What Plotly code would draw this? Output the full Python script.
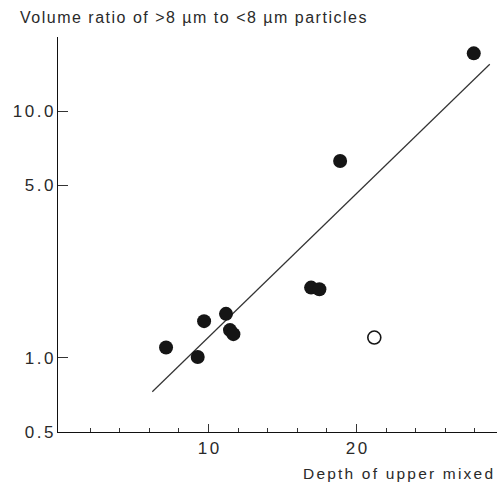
import plotly.graph_objects as go
import numpy as np

# Data
filled_x = [7.13, 9.27, 9.70, 11.18, 11.45, 11.68, 16.93, 17.49, 18.89, 27.92]
filled_y = [1.10, 1.007, 1.408, 1.507, 1.295, 1.247, 1.926, 1.897, 6.28, 17.17]
open_x = [21.2]
open_y = [1.208]
fit_x = [6.2, 29.0]
fit_y = [0.728, 15.5]

x_major = [10, 20]
x_major_text = ["10", "20"]
x_minor = [2, 4, 6, 8, 12, 14, 16, 18, 22, 24, 26, 28]
y_ticks = [0.5, 1.0, 5.0, 10.0]
y_ticktext = ["0.5", "1.0", "5.0", "10.0"]

title_text = "Volume ratio of >8 \u00b5m to <8 \u00b5m particles"
xlabel_text = "Depth of upper mixed"

W, H = 497, 485
ML, MR, MT, MB = 58, 0, 37, 53
font_family = "Liberation Sans, Arial, sans-serif"
ink = "#2a2a2a"


def spaced(s, ls):
    # letter-spacing on all but the last character (no trailing gap)
    return '<span style="letter-spacing:%.1fpx">%s</span>%s' % (ls, s[:-1], s[-1])


fig = go.Figure()
fig.add_trace(go.Scatter(x=fit_x, y=fit_y, mode="lines",
                         line=dict(color="#333333", width=1.2),
                         hoverinfo="skip", showlegend=False))
fig.add_trace(go.Scatter(x=filled_x, y=filled_y, mode="markers",
                         marker=dict(size=14, color="#151515",
                                     line=dict(width=0)),
                         showlegend=False))
fig.add_trace(go.Scatter(x=open_x, y=open_y, mode="markers",
                         marker=dict(size=13, color="white",
                                     line=dict(width=1.6, color="#151515")),
                         showlegend=False))

fig.update_layout(
    width=W, height=H,
    margin=dict(l=ML, r=MR, t=MT, b=MB),
    plot_bgcolor="white", paper_bgcolor="white",
    font=dict(family=font_family, size=16, color=ink),
    xaxis=dict(range=[-0.17, 29.49], showgrid=False, zeroline=False,
               showline=True, linecolor="#111111", linewidth=1.4,
               ticks="inside", tickvals=x_major,
               ticktext=[spaced(t, 2.5) for t in x_major_text],
               ticklen=8, tickwidth=1, tickcolor="#333333",
               tickfont=dict(size=17, family=font_family, color=ink),
               minor=dict(tickvals=x_minor, ticks="inside", ticklen=4,
                          tickwidth=1, tickcolor="#333333")),
    yaxis=dict(type="log", range=[np.log10(0.5), np.log10(20)],
               showgrid=False, zeroline=False,
               showline=True, linecolor="#111111", linewidth=1.4,
               ticks="inside", tickvals=y_ticks,
               ticktext=[spaced(t, 2.5) for t in y_ticktext],
               ticklen=10, tickwidth=1, tickcolor="#333333",
               ticklabelstandoff=0,
               tickfont=dict(size=17, family=font_family, color=ink)),
    annotations=[
        dict(text=spaced(title_text, 1.5), xref="paper", yref="paper",
             x=(18 - ML) / (W - ML - MR), y=1 + (MT - 18) / (H - MT - MB),
             xanchor="left", yanchor="middle", showarrow=False,
             font=dict(size=16, family=font_family, color=ink)),
        dict(text=spaced(xlabel_text, 2.2), xref="paper", yref="paper",
             x=(301 - ML) / (W - ML - MR), y=-(474 - (H - MB)) / (H - MT - MB),
             xanchor="left", yanchor="middle", showarrow=False,
             font=dict(size=15.5, family=font_family, color=ink)),
    ],
)

fig.write_html("out.html")
